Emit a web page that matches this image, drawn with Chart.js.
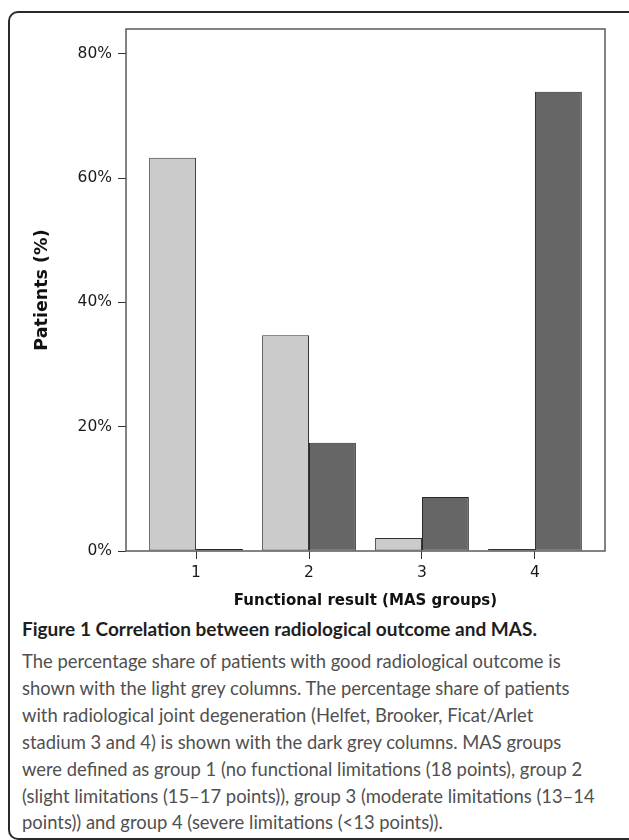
<!DOCTYPE html>
<html>
<head>
<meta charset="utf-8">
<script src="https://cdn.jsdelivr.net/npm/chart.js@4.4.1/dist/chart.umd.min.js"></script>
<style>
	html, body { margin: 0; padding: 0; background: #fff; }
	body { width: 629px; height: 840px; position: relative; overflow: hidden; }
	.frame {
		position: absolute; left: 8px; top: 11px; width: 660px; height: 825px;
		border: 2px solid #2b2b2b; border-radius: 10px;
	}
	.chart-box { position: absolute; left: 0; top: 0; width: 629px; height: 614px; }
	.caption {
		position: absolute; left: 22px; top: 614px; white-space: nowrap;
		font-family: Lato, 'Open Sans', sans-serif; color: #505050;
	}
	.caption .head { font-weight: bold; color: #1e1e1e; font-size: 19px; line-height: 30px; margin-bottom: 4px; }
	.caption .line { font-size: 18.4px; line-height: 26.9px; }
</style>
</head>
<body>
<div class="frame"></div>
<div class="chart-box"><canvas id="chart"></canvas></div>
<div class="caption">
	<div class="head">Figure 1 Correlation between radiological outcome and MAS.</div>
	<div class="line">The percentage share of patients with good radiological outcome is</div>
	<div class="line">shown with the light grey columns. The percentage share of patients</div>
	<div class="line">with radiological joint degeneration (Helfet, Brooker, Ficat/Arlet</div>
	<div class="line">stadium 3 and 4) is shown with the dark grey columns. MAS groups</div>
	<div class="line">were defined as group 1 (no functional limitations (18 points), group 2</div>
	<div class="line">(slight limitations (15–17 points)), group 3 (moderate limitations (13–14</div>
	<div class="line">points)) and group 4 (severe limitations (&lt;13 points)).</div>
</div>
<script>
	// MAS groups on the x axis
	const groups = [1, 2, 3, 4];
	// good radiological outcome (light grey), % of patients
	const goodOutcome = [63.3, 34.7, 2.1, 0];
	// radiological joint degeneration (dark grey), % of patients
	const degeneration = [0, 17.4, 8.7, 73.9];
	const yTicks = [0, 20, 40, 60, 80];

	const tickFont = { family: 'DejaVu Sans', size: 15.5 };
	const titleFont = { family: 'DejaVu Sans', size: 15, weight: 'bold' };

	// draws the closed box round the plot area
	const plotFrame = {
		id: 'plotFrame',
		afterDatasetsDraw(chart) {
			const a = chart.chartArea;
			const ctx = chart.ctx;
			ctx.save();
			ctx.strokeStyle = '#5a5a5a';
			ctx.lineWidth = 1.5;
			ctx.strokeRect(a.left, a.top, a.right - a.left, a.bottom - a.top);
			ctx.restore();
		},
	};

	const toPoints = (vals) => groups.map((g, i) => ({ x: g, y: vals[i] }));

	new Chart(document.getElementById('chart').getContext('2d'), {
		type: 'bar',
		data: {
			datasets: [
				{
					label: 'Good radiological outcome',
					data: toPoints(goodOutcome),
					backgroundColor: '#cbcbcb',
					borderColor: '#333333',
					borderWidth: 1,
					borderSkipped: false,
				},
				{
					label: 'Radiological joint degeneration',
					data: toPoints(degeneration),
					backgroundColor: '#666666',
					borderColor: '#2a2a2a',
					borderWidth: 1,
					borderSkipped: false,
				},
			],
		},
		options: {
			responsive: true,
			maintainAspectRatio: false,
			animation: false,
			minBarLength: 2,
			categoryPercentage: 0.83,
			barPercentage: 1,
			layout: { padding: { top: 29, right: 24, left: 30, bottom: 0 } },
			plugins: {
				legend: { display: false },
				tooltip: { enabled: false },
			},
			scales: {
				x: {
					type: 'linear',
					offset: false,
					min: 0.38,
					max: 4.62,
					afterBuildTicks(scale) {
						scale.ticks = groups.map((g) => ({ value: g }));
					},
					afterFit(scale) {
						scale.height = 63;
					},
					ticks: {
						color: '#1a1a1a',
						font: tickFont,
						padding: 5,
						callback: (v) => String(v),
					},
					grid: {
						offset: false,
						drawOnChartArea: false,
						drawTicks: true,
						tickLength: 8,
						tickColor: '#333',
					},
					border: { display: false },
					title: {
						display: true,
						text: 'Functional result (MAS groups)',
						color: '#111',
						font: titleFont,
						padding: { top: 0, bottom: 4 },
					},
				},
				y: {
					min: 0,
					max: 84,
					afterBuildTicks(scale) {
						scale.ticks = yTicks.map((v) => ({ value: v }));
					},
					afterFit(scale) {
						scale.width = 96;
					},
					ticks: {
						color: '#1a1a1a',
						font: tickFont,
						padding: 6,
						callback: (v) => v + '%',
					},
					grid: {
						drawOnChartArea: false,
						drawTicks: true,
						tickLength: 8,
						tickColor: '#333',
					},
					border: { display: false },
					title: {
						display: true,
						text: 'Patients (%)',
						color: '#111',
						font: { family: 'DejaVu Sans', size: 17.5, weight: 'bold' },
						padding: { top: 2, bottom: 0 },
					},
				},
			},
		},
		plugins: [plotFrame],
	});
</script>
</body>
</html>
